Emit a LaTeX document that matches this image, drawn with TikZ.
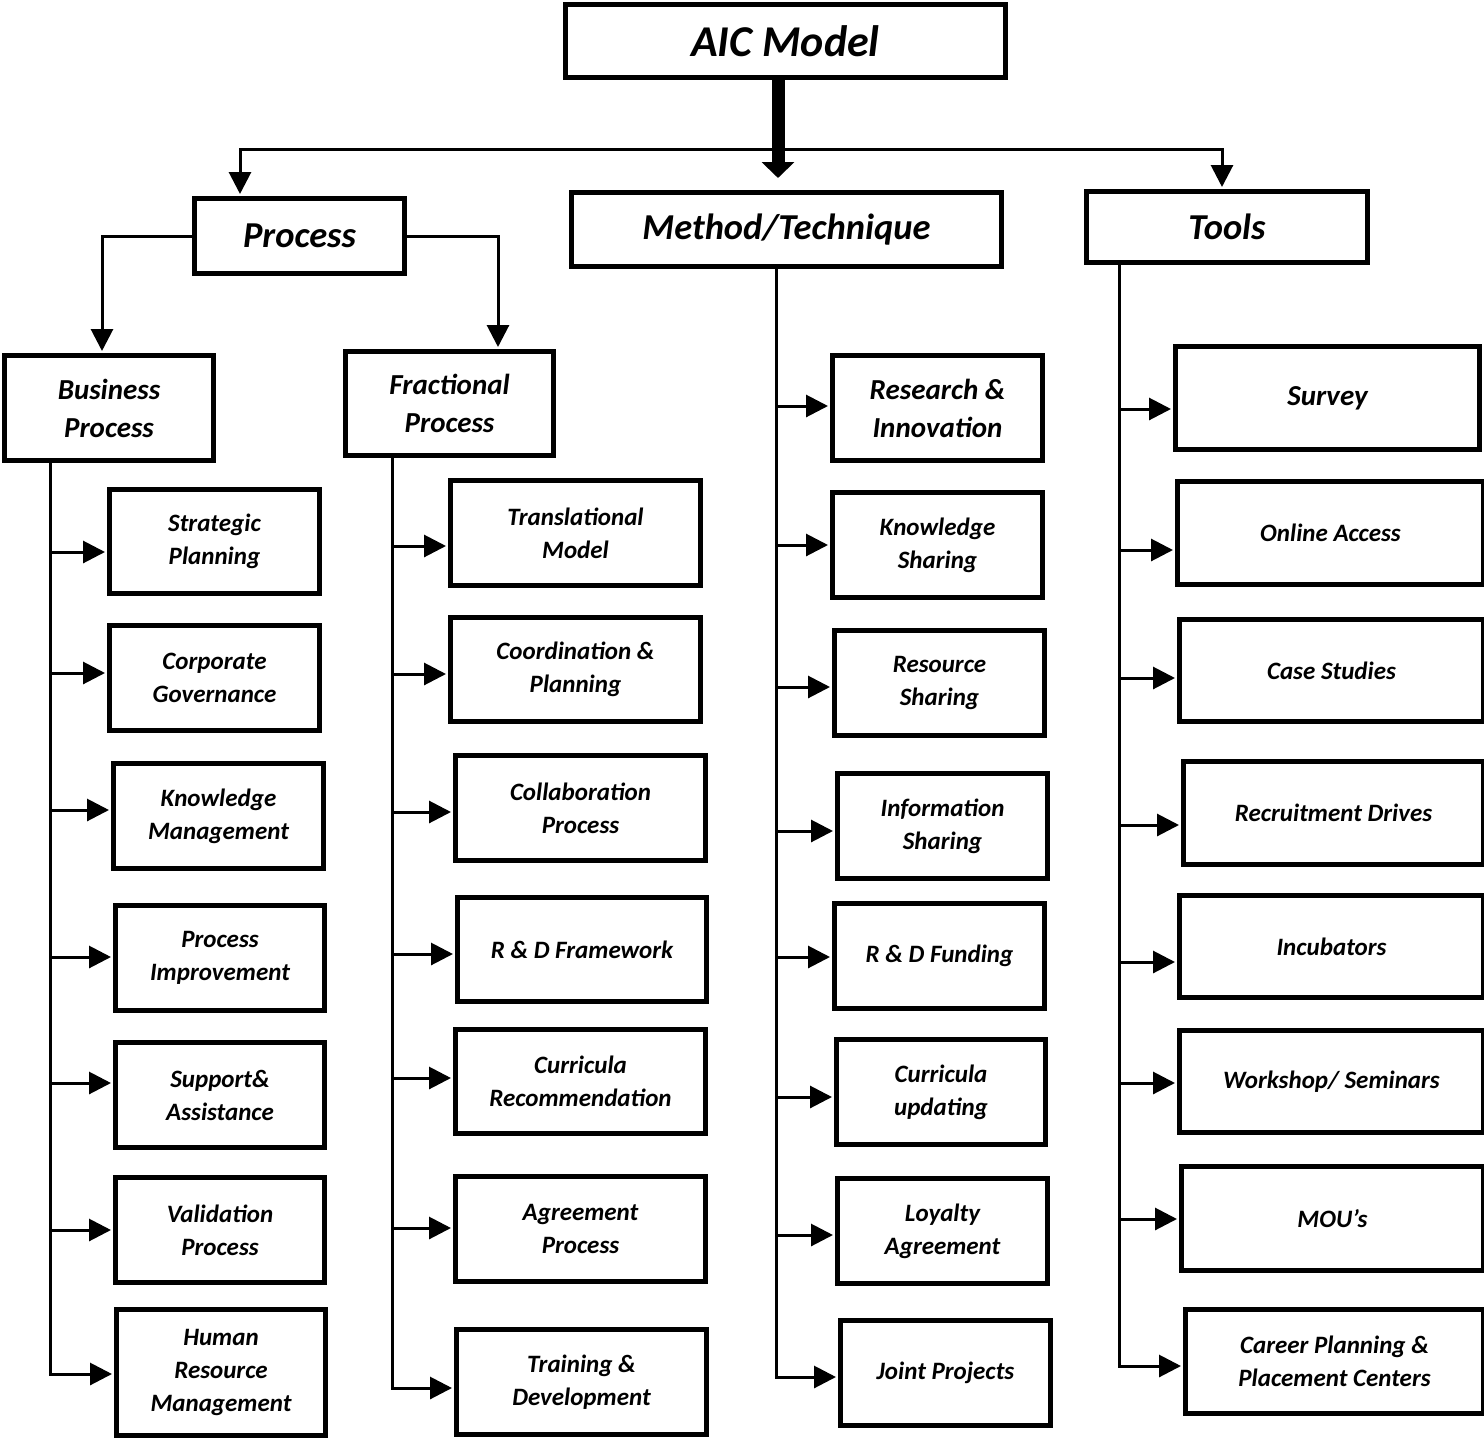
\documentclass[tikz,border=0pt]{standalone}
\usepackage{fontspec}
\setmainfont{Carlito}
\usetikzlibrary{arrows.meta}
\tikzset{
  box/.style={draw=black, line width=5pt, inner sep=0pt, align=center, fill=white,
    font=\bfseries\itshape\fontsize{25}{33}\selectfont},
  midfont/.style={font=\bfseries\itshape\fontsize{29}{38}\selectfont},
  bigfont/.style={font=\bfseries\itshape\fontsize{36.5}{40}\selectfont},
  topfont/.style={font=\bfseries\itshape\fontsize{44}{48}\selectfont},
  conn/.style={line width=3pt, line cap=butt, line join=miter},
  arr/.style={conn, -{Triangle[length=22pt,width=22pt]}, shorten >=2pt},
}
% \mybox[opts]{name}{x1}{y1}{x2}{y2}{text}
\newcommand{\mybox}[7][]{%
  \node[box, #1, minimum width={#5-#3-5}, minimum height={#6-#4-5}] (#2)
    at ({(#3+#5)/2},{(#4+#6)/2}) {#7};}
\begin{document}
\begin{tikzpicture}[x=1pt,y=-1pt]
\useasboundingbox (0,0) rectangle (1484,1440);
\clip (0,0) rectangle (1484,1440);
\fill[white] (0,0) rectangle (1484,1440);

% top level
\mybox[topfont]{aic}{563}{2}{1008}{80}{AIC Model}
\mybox[bigfont]{proc}{192}{196}{407}{276}{Process}
\mybox[bigfont]{meth}{569}{190}{1004}{269}{Method/Technique}
\mybox[bigfont]{tools}{1084}{189}{1370}{265}{Tools}
\mybox[midfont]{bp}{2}{353}{216}{463}{Business\\Process}
\mybox[midfont]{fp}{343}{349}{556}{458}{Fractional\\Process}

% column 1
\mybox{s1}{107}{487}{322}{596}{Strategic\\Planning}
\mybox{s2}{107}{623}{322}{733}{Corporate\\Governance}
\mybox{s3}{111}{761}{326}{871}{Knowledge\\Management}
\mybox{s4}{113}{903}{327}{1013}{Process\\Improvement}
\mybox{s5}{113}{1040}{327}{1150}{Support\&\\Assistance}
\mybox{s6}{113}{1175}{327}{1285}{Validation\\Process}
\mybox{s7}{114}{1307}{328}{1438}{Human\\Resource\\Management}

% column 2
\mybox{f1}{448}{478}{703}{588}{Translational\\Model}
\mybox{f2}{448}{615}{703}{724}{Coordination \&\\Planning}
\mybox{f3}{453}{753}{708}{863}{Collaboration\\Process}
\mybox{f4}{455}{895}{709}{1004}{R \& D Framework}
\mybox{f5}{453}{1027}{708}{1136}{Curricula\\Recommendation}
\mybox{f6}{453}{1174}{708}{1284}{Agreement\\Process}
\mybox{f7}{454}{1327}{709}{1437}{Training \&\\Development}

% column 3
\mybox[midfont]{m1}{830}{353}{1045}{463}{Research \&\\Innovation}
\mybox{m2}{830}{490}{1045}{600}{Knowledge\\Sharing}
\mybox{m3}{832}{628}{1047}{738}{Resource\\Sharing}
\mybox{m4}{835}{771}{1050}{881}{Information\\Sharing}
\mybox{m5}{832}{901}{1047}{1011}{R \& D Funding}
\mybox{m6}{834}{1037}{1048}{1147}{Curricula\\updating}
\mybox{m7}{835}{1176}{1050}{1286}{Loyalty\\Agreement}
\mybox{m8}{838}{1318}{1053}{1428}{Joint Projects}

% column 4
\mybox[midfont]{t1}{1173}{344}{1482}{452}{Survey}
\mybox{t2}{1175}{479}{1486}{587}{Online Access}
\mybox{t3}{1177}{617}{1486}{724}{Case Studies}
\mybox{t4}{1181}{759}{1486}{867}{Recruitment Drives}
\mybox{t5}{1177}{893}{1486}{1000}{Incubators}
\mybox{t6}{1177}{1028}{1486}{1135}{Workshop/ Seminars}
\mybox{t7}{1179}{1164}{1486}{1273}{MOU’s}
\mybox{t8}{1183}{1307}{1486}{1416}{Career Planning \&\\Placement Centers}

% coordinates
\coordinate (hl) at (240,149);
\coordinate (hr) at (1222,149);
\coordinate (tk) at (778,178);
\coordinate (pl) at (102,0);
\coordinate (pr) at (498,0);
\coordinate (trA) at (50,0);
\coordinate (trB) at (392,0);
\coordinate (trC) at (776,0);
\coordinate (trD) at (1119,0);

% top connectors
\draw[conn, {Triangle[length=22pt,width=22pt]}-{Triangle[length=22pt,width=22pt]}, shorten <=2pt, shorten >=2pt]
  (proc.north -| hl) -- (hl) -- (hr) -- (tools.north -| hr);
\draw[line width=13pt, -{Triangle[length=16pt 0 0,width=32pt 0 0]}] (aic.south -| tk) -- (tk);

% process to sub-processes
\draw[arr] (proc.west) -| (bp.north -| pl);
\draw[arr] (proc.east) -| (fp.north -| pr);

% trunks with last arrow
\draw[arr] (bp.south -| trA) |- (s7.west |- 0,1374);
\draw[arr] (fp.south -| trB) |- (f7.west |- 0,1388);
\draw[arr] (meth.south -| trC) |- (m8.west |- 0,1377);
\draw[arr] (tools.south -| trD) |- (t8.west |- 0,1366);

% branch arrows
\foreach \n/\y in {s1/552,s2/673,s3/810,s4/957,s5/1083,s6/1230}
  \draw[arr] (trA |- 0,\y) -- (\n.west |- 0,\y);
\foreach \n/\y in {f1/546,f2/674,f3/812,f4/954,f5/1078,f6/1228}
  \draw[arr] (trB |- 0,\y) -- (\n.west |- 0,\y);
\foreach \n/\y in {m1/406,m2/545,m3/687,m4/831,m5/957,m6/1097,m7/1235}
  \draw[arr] (trC |- 0,\y) -- (\n.west |- 0,\y);
\foreach \n/\y in {t1/409,t2/550,t3/678,t4/825,t5/962,t6/1083,t7/1219}
  \draw[arr] (trD |- 0,\y) -- (\n.west |- 0,\y);
\end{tikzpicture}
\end{document}
